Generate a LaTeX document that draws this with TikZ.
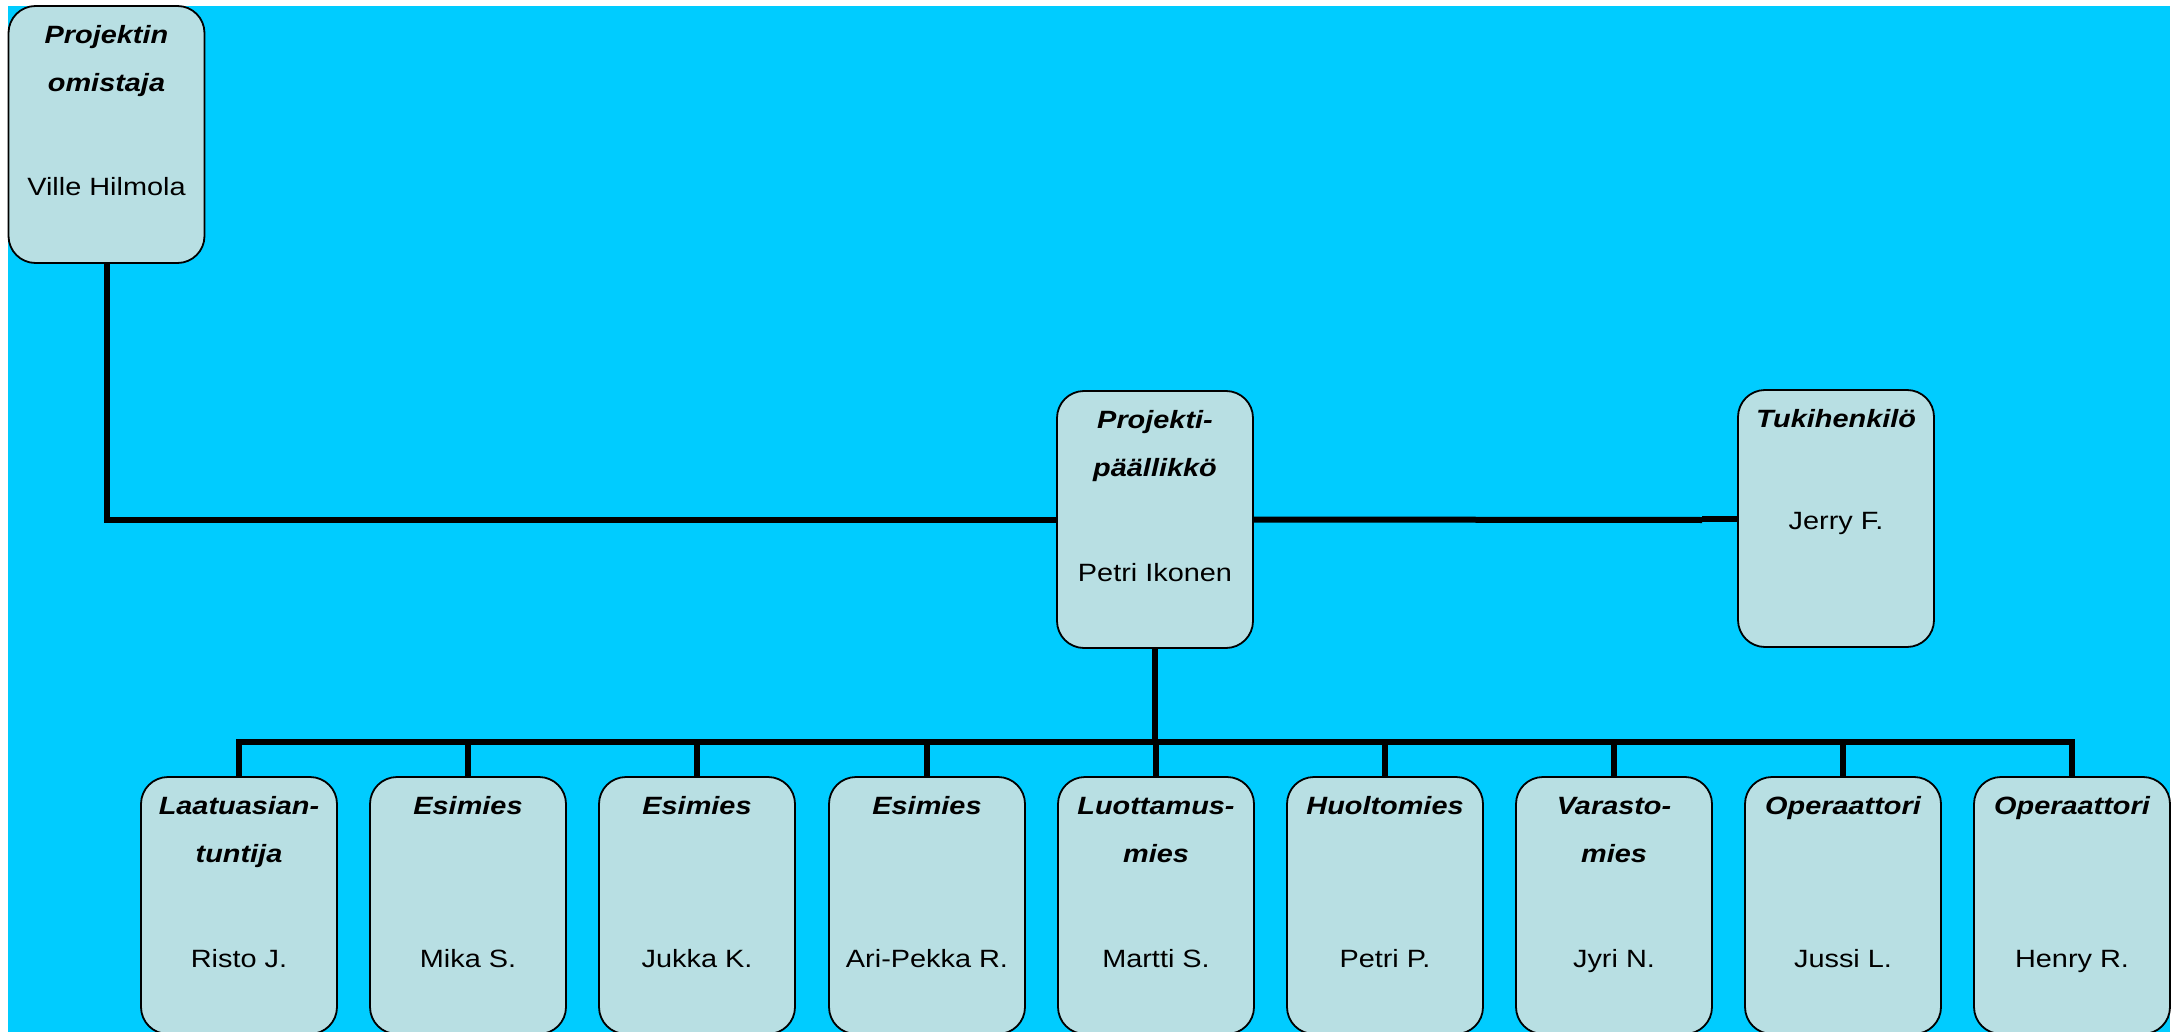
\documentclass[tikz,border=0pt]{standalone}
\usepackage{fontspec}
\setmainfont{Liberation Sans}[FakeStretch=1.155]
\usetikzlibrary{calc}
\definecolor{bgcyan}{HTML}{00CCFF}
\definecolor{boxfill}{HTML}{B8DFE3}
\tikzset{
  orgbox/.style={draw=black, line width=0.9pt, fill=boxfill, rounded corners=13.5pt,
    minimum width=98pt, minimum height=128.5pt, inner sep=0pt, outer sep=0pt},
  ttl/.style={anchor=base, inner sep=0pt, font=\fontsize{12.5}{24}\selectfont\bfseries\itshape},
  nm/.style={anchor=base, inner sep=0pt, font=\fontsize{12.5}{24}\selectfont},
  conn/.style={line width=3pt, line join=miter}
}
\begin{document}
\begin{tikzpicture}[x=0.5pt, y=-0.5pt]
\useasboundingbox (0,0) rectangle (2174,1032);
\fill[white] (0,0) rectangle (2174,1032);
\fill[bgcyan] (8,6) rectangle (2170,1032);
\begin{scope}
\clip (0,0) rectangle (2174,1032);
% boxes
\node[orgbox] (own) at (106.5,134.5) {};
\node[orgbox] (pm) at (1155,519.5) {};
\node[orgbox] (tuki) at (1836,518.5) {};
\foreach \i/\x in {1/239,2/468,3/697,4/927,5/1156,6/1385,7/1614,8/1843,9/2072}{
  \node[orgbox] (c\i) at (\x,905.5) {};
}
% connectors
\coordinate (jog) at (1702,520);
\coordinate (bus) at (1155,742);
\draw[conn] (own.south) |- (pm.west);
\draw[conn] (pm.east) -- (jog);
\draw[conn] (jog |- tuki.west) -- (tuki.west);
\draw[conn] (pm.south) -- (pm.south |- bus);
\draw[conn] (c1.north) -- (c1.north |- bus) -- (c9.north |- bus) -- (c9.north);
\foreach \i in {2,...,8}{
  \draw[conn] (c\i.north) -- (c\i.north |- bus);
}
% texts
\node[ttl] (ownt1) at ($(own.north)+(0,37.5)$) {Projektin};
\node[ttl] (ownt2) at ($(own.north)+(0,85.5)$) {omistaja};
\node[nm] (ownn) at ($(own.north)+(0,189.5)$) {Ville Hilmola};
\node[ttl] (pmt1) at ($(pm.north)+(0,37.5)$) {Projekti-};
\node[ttl] (pmt2) at ($(pm.north)+(0,85.5)$) {päällikkö};
\node[nm] (pmn) at ($(pm.north)+(0,190.5)$) {Petri Ikonen};
\node[ttl] (tukit1) at ($(tuki.north)+(0,37.5)$) {Tukihenkilö};
\node[nm] (tukin) at ($(tuki.north)+(0,139)$) {Jerry F.};
\foreach \i/\ta/\tb/\nmx in {1/Laatuasian-/tuntija/Risto J.,2/Esimies/{}/Mika S.,3/Esimies/{}/Jukka K.,4/Esimies/{}/Ari-Pekka R.,5/Luottamus-/mies/Martti S.,6/Huoltomies/{}/Petri P.,7/Varasto-/mies/Jyri N.,8/Operaattori/{}/Jussi L.,9/Operaattori/{}/Henry R.}{
  \node[ttl] (c\i t1) at ($(c\i.north)+(0,37.5)$) {\ta};
  \node[ttl] (c\i t2) at ($(c\i.north)+(0,85.5)$) {\tb};
  \node[nm] (c\i n) at ($(c\i.north)+(0,190)$) {\nmx};
}
\end{scope}
\end{tikzpicture}
\end{document}
